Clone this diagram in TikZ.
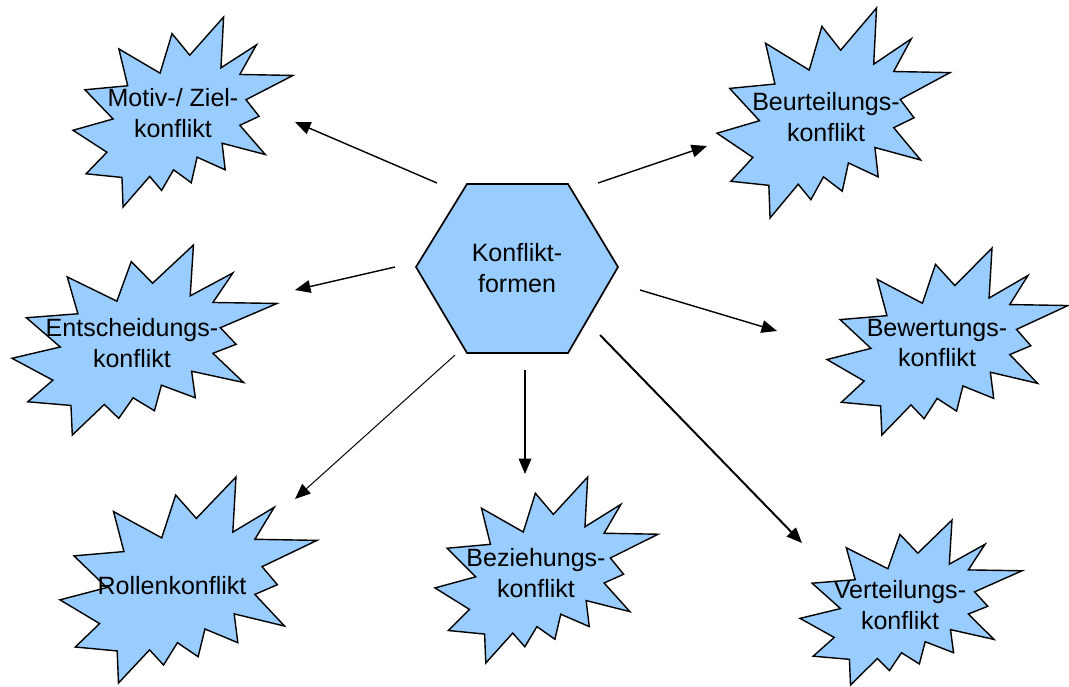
\documentclass[tikz,border=0pt]{standalone}
\usepackage{fontspec}
\setmainfont{Liberation Sans}
\usetikzlibrary{arrows.meta}
\definecolor{sealblue}{HTML}{99CCFF}
\tikzset{
	sealline/.style={fill=sealblue, draw=black, line width=1pt},
	seal/.pic={
		\draw[sealline] (53.06,20.10) -- (68.47,0) -- (67.25,26.75) -- (83.37,14.69)
			-- (75.83,30.24) -- (100,30.76) -- (78.63,43.53) -- (84.58,52.27)
			-- (75.83,56.99) -- (87.39,72.37) -- (67.78,66.44) -- (69.18,80.42)
			-- (56.39,73.77) -- (53.76,87.23) -- (45.70,80.42) -- (40.28,91.26)
			-- (34.85,83.91) -- (22.76,100) -- (22.25,84.44) -- (5.95,82.52)
			-- (15.42,71.16) -- (0,59.62) -- (18.22,53.67) -- (5.43,38.29)
			-- (24.87,36.19) -- (20.84,16.78) -- (39.58,29.55) -- (45.01,8.74) -- cycle;
	},
	konflikt/.style={font=\fontsize{17.8}{22}\selectfont, align=center, inner sep=0pt},
	pfeil/.style={-{Triangle[length=11pt,width=9pt]}, line width=1pt},
}
\begin{document}
\begin{tikzpicture}[x=0.025cm, y=-0.025cm]
	\useasboundingbox (0,0) rectangle (1069,686);
	
	% Sterne (x/y/Breite/Hoehe)
	\foreach \x/\y/\w/\h in {73/17/220/190, 717/8/233/210, 12/245/265/190, 827/248/241/187,
		60/477/257/206, 435/477/223/186, 800/520/222/165}{
		\pgfmathsetmacro{\sx}{\w/100}
		\pgfmathsetmacro{\sy}{\h/100}
		\pic[xscale=\sx, yscale=\sy] at (\x,\y) {seal};
	}
	
	% Sechseck
	\draw[sealline, line width=1.2pt] (416,267) -- (467,184) -- (568,184) -- (618,267)
		-- (568,353) -- (467,353) -- cycle;
	\node[konflikt] (formen) at (517,268) {Konflikt-\\formen};
	
	\node[konflikt] (motiv) at (173,113) {Motiv-/ Ziel-\\konflikt};
	\node[konflikt] (beurteil) at (826,117) {Beurteilungs-\\konflikt};
	\node[konflikt] (entsch) at (132,343) {Entscheidungs-\\konflikt};
	\node[konflikt] (bewert) at (937,343) {Bewertungs-\\konflikt};
	\node[konflikt] (rollen) at (172,586) {Rollenkonflikt};
	\node[konflikt] (bezieh) at (536,573) {Beziehungs-\\konflikt};
	\node[konflikt] (verteil) at (900,605) {Verteilungs-\\konflikt};
	
	% Pfeile
	\coordinate (a1) at (437,183); \coordinate (b1) at (295,122);
	\coordinate (a2) at (598,183); \coordinate (b2) at (707,146);
	\coordinate (a3) at (395,267); \coordinate (b3) at (295,290);
	\coordinate (a4) at (640,290); \coordinate (b4) at (777,331);
	\coordinate (a5) at (455,355); \coordinate (b5) at (295,499);
	\coordinate (a6) at (525,370); \coordinate (b6) at (525,474);
	\coordinate (a7) at (600,335); \coordinate (b7) at (802,543);
	\foreach \i in {1,2,3,4,6}{
		\draw[pfeil] (a\i) -- (b\i);
	}
	\draw[pfeil, line width=0.7pt] (a5) -- (b5);
	\draw[pfeil, line width=1.4pt] (a7) -- (b7);
\end{tikzpicture}
\end{document}
